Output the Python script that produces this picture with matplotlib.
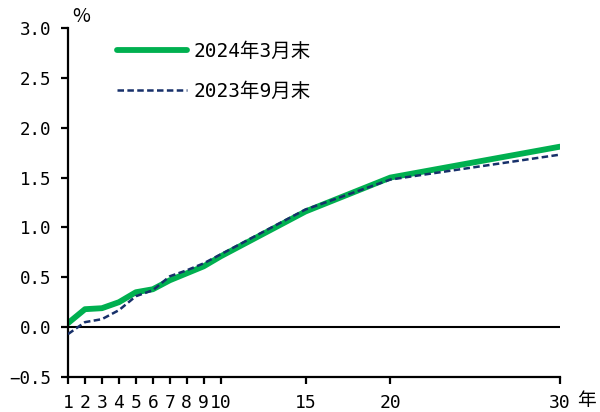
import matplotlib
matplotlib.use("Agg")
import matplotlib.pyplot as plt

# Half-width digits from a monospaced face, Japanese from Noto CJK
LABEL_FONT = ['DejaVu Sans Mono', 'Noto Sans CJK JP']
plt.rcParams['font.family'] = LABEL_FONT

# Yield curve by maturity (years), %
maturities = [1, 2, 3, 4, 5, 6, 7, 8, 9, 10, 15, 20, 30]
yield_2024_03 = [0.04, 0.18, 0.19, 0.25, 0.35, 0.38, 0.47, 0.54, 0.61, 0.71, 1.16, 1.50, 1.81]
yield_2023_09 = [-0.07, 0.05, 0.08, 0.17, 0.31, 0.37, 0.51, 0.57, 0.64, 0.73, 1.18, 1.48, 1.73]

series_labels = ['2024年3月末', '2023年9月末']
x_ticks = [1, 2, 3, 4, 5, 6, 7, 8, 9, 10, 15, 20, 30]
x_tick_labels = ['1', '2', '3', '4', '5', '6', '7', '8', '9', '10', '15', '20', '30']
y_ticks = [-0.5, 0.0, 0.5, 1.0, 1.5, 2.0, 2.5, 3.0]
y_tick_labels = ['−0.5', '0.0', '0.5', '1.0', '1.5', '2.0', '2.5', '3.0']

fig = plt.figure(figsize=(6.0, 4.12), dpi=100)
ax = fig.add_axes([68 / 600, 35 / 412, 492 / 600, 349 / 412])

ax.axhline(0, color='black', lw=1.5, zorder=1)
ax.plot(maturities, yield_2024_03, color='#00B050', lw=4.2,
        solid_capstyle='round', solid_joinstyle='round', label=series_labels[0], zorder=2)
ax.plot(maturities, yield_2023_09, color='#17306A', lw=1.8,
        dashes=(2.6, 1.35), label=series_labels[1], zorder=3)

ax.set_xlim(1, 30)
ax.set_ylim(-0.5, 3.0)
ax.set_xticks(x_ticks)
ax.set_xticklabels(x_tick_labels, fontsize=13)
ax.set_yticks(y_ticks)
ax.set_yticklabels(y_tick_labels, fontsize=12.6)

for side in ('top', 'right'):
    ax.spines[side].set_visible(False)
for side in ('left', 'bottom'):
    ax.spines[side].set_linewidth(1.6)
    ax.spines[side].set_color('black')
ax.tick_params(axis='both', direction='out', length=5, width=1.6, colors='black')
ax.tick_params(axis='x', pad=7)
ax.tick_params(axis='y', pad=7)

fig.text(72 / 600, 1 - 22 / 412, '%', fontsize=14, ha='left', va='baseline',
         family=['Noto Sans CJK JP'])
fig.text(577 / 600, 1 / 412, '年', fontsize=13.5, ha='left', va='bottom',
         family=['Noto Sans CJK JP'])

leg = ax.legend(loc='upper left', bbox_to_anchor=(0.071, 1.0), frameon=False,
                prop={'family': LABEL_FONT, 'size': 14},
                handlelength=3.6, handletextpad=0.36,
                labelspacing=1.1, borderpad=0.2)

fig.savefig('out.png', dpi=100)
